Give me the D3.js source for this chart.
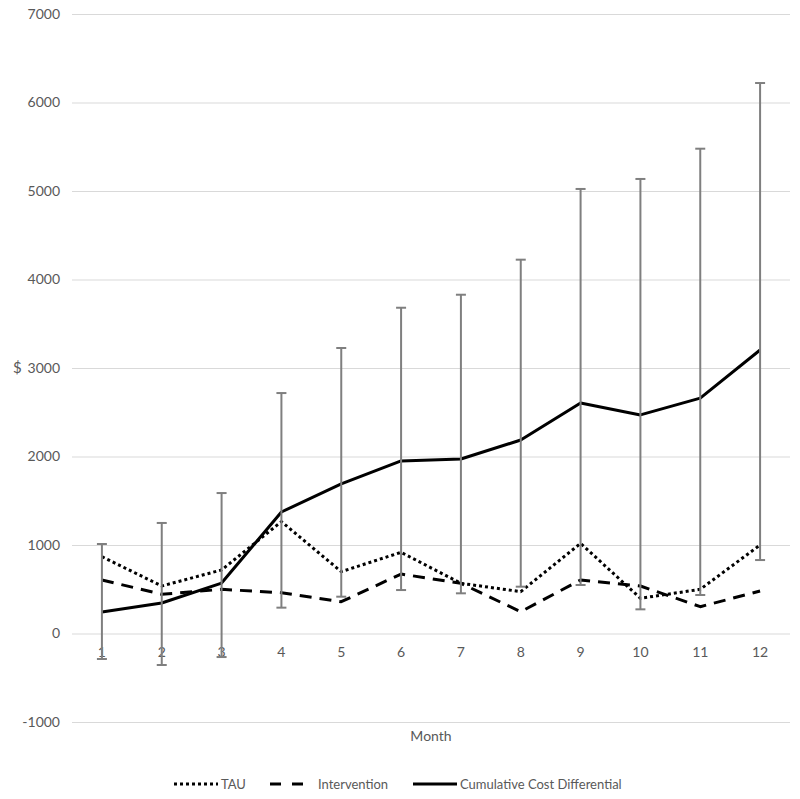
<!DOCTYPE html>
<html>
<head>
<meta charset="utf-8">
<script src="https://cdn.jsdelivr.net/npm/d3@7"></script>
<style>
  body { margin: 0; background: #fff; }
  svg text { font-family: Lato, "Open Sans", sans-serif; fill: #595959; }
</style>
</head>
<body>
<svg id="canvas" width="800" height="799"></svg>
<script>
// chart data
let months = [1, 2, 3, 4, 5, 6, 7, 8, 9, 10, 11, 12];
let tau = [868, 537, 718, 1264, 699, 917, 567, 473, 1019, 398, 499, 1000];
let intervention = [605, 443, 499, 461, 359, 672, 567, 246, 605, 537, 303, 480];
let cumulative = [243, 345, 570, 1373, 1690, 1950, 1972, 2186, 2605, 2470, 2660, 3203];
let errUpper = [1011, 1249, 1587, 2717, 3226, 3681, 3828, 4224, 5023, 5136, 5478, 6220];
let errLower = [-288, -356, -266, 292, 416, 491, 454, 529, 548, 273, 435, 830];
let yTicks = [-1000, 0, 1000, 2000, 3000, 4000, 5000, 6000, 7000];

let canvas = d3.select('#canvas');

let x = d3.scaleBand().domain(months).range([72, 790]);
let y = d3.scaleLinear().domain([-1000, 7000]).range([722, 14]);
let cx = (m) => x(m) + x.bandwidth() / 2;

// gridlines + y labels (plain hyphen for negatives, like the original)
let yAxis = d3.axisLeft(y).tickValues(yTicks).tickSize(-(790 - 72)).tickFormat(d => String(d));
let yg = canvas.append('g').attr('transform', 'translate(72,0)').call(yAxis);
yg.select('.domain').remove();
yg.selectAll('.tick line').attr('stroke', '#d9d9d9').attr('stroke-width', 1);
yg.selectAll('.tick text').attr('x', -12).style('font-size', '14px');

// month labels sit just under the zero line
let xAxis = d3.axisBottom(x).tickSize(0).tickPadding(14);
let xg = canvas.append('g').attr('transform', 'translate(0,' + y(0) + ')').call(xAxis);
xg.select('.domain').remove();
xg.selectAll('.tick text').style('font-size', '14px');

canvas.append('text').attr('x', 13).attr('y', y(3000) + 5).style('font-size', '15px').text('$');
canvas.append('text').attr('x', 431).attr('y', 741).attr('text-anchor', 'middle')
  .style('font-size', '14px').text('Month');

let series = [
  {name: 'TAU', values: tau, dash: '3,3'},
  {name: 'Intervention', values: intervention, dash: '12,8'},
  {name: 'Cumulative Cost Differential', values: cumulative, dash: null}
];

let line = d3.line().x((d, i) => cx(months[i])).y(d => y(d));

canvas.selectAll('path.series')
  .data(series)
  .enter()
  .append('path')
  .attr('class', 'series')
  .attr('d', s => line(s.values))
  .attr('fill', 'none')
  .attr('stroke', '#000')
  .attr('stroke-width', 3)
  .attr('stroke-linejoin', 'round')
  .attr('stroke-dasharray', s => s.dash);

// error bars on the cumulative series
let bars = canvas.append('g').attr('stroke', '#7f7f7f').attr('stroke-width', 2);
months.forEach((m, i) => {
  bars.append('line').attr('x1', cx(m)).attr('x2', cx(m)).attr('y1', y(errLower[i])).attr('y2', y(errUpper[i]));
  bars.append('line').attr('x1', cx(m) - 5).attr('x2', cx(m) + 5).attr('y1', y(errUpper[i])).attr('y2', y(errUpper[i]));
  bars.append('line').attr('x1', cx(m) - 5).attr('x2', cx(m) + 5).attr('y1', y(errLower[i])).attr('y2', y(errLower[i]));
});

// legend
let legendX = [174, 270, 413];
let legendLen = [44, 34, 44];
let legend = canvas.append('g');
series.forEach((s, i) => {
  legend.append('line')
    .attr('x1', legendX[i]).attr('x2', legendX[i] + legendLen[i])
    .attr('y1', 784).attr('y2', 784)
    .attr('stroke', '#000').attr('stroke-width', 3)
    .attr('stroke-dasharray', i === 1 ? '11,11' : s.dash);
  legend.append('text')
    .attr('x', legendX[i] + legendLen[i] + (i === 1 ? 14 : 3))
    .attr('y', 789)
    .style('font-size', '13px')
    .text(s.name);
});
</script>
</body>
</html>
